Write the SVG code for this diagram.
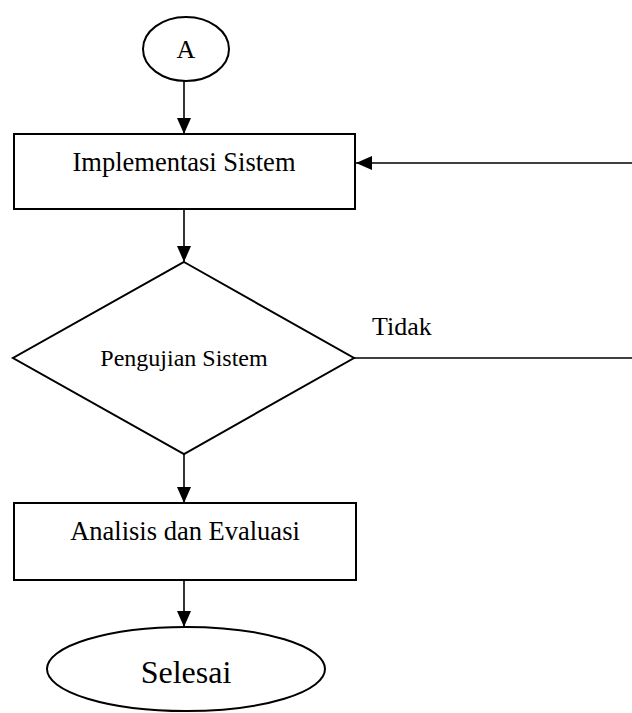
<svg xmlns="http://www.w3.org/2000/svg" width="632" height="713" viewBox="0 0 632 713">
<defs>
<style>
.shape{fill:#fff;stroke:#000;stroke-width:2}
.conn{fill:none;stroke:#000;stroke-width:1.6}
.lbl{font-family:"Liberation Serif","Times New Roman",serif;fill:#000;text-anchor:middle}
</style>
<marker id="ah" viewBox="0 0 16 14" refX="16" refY="7" markerWidth="16" markerHeight="14" markerUnits="userSpaceOnUse" orient="auto">
<path d="M0,0 L16,7 L0,14 Z" fill="#000"/>
</marker>
</defs>
<rect width="632" height="713" fill="#fff"/>
<g id="connectors">
<line class="conn" x1="184" y1="80" x2="184" y2="134" marker-end="url(#ah)"/>
<line class="conn" x1="632" y1="163" x2="356" y2="163" marker-end="url(#ah)"/>
<line class="conn" x1="184" y1="209" x2="184" y2="262" marker-end="url(#ah)"/>
<line class="conn" x1="354" y1="358" x2="632" y2="358"/>
<line class="conn" x1="184" y1="454" x2="184" y2="503" marker-end="url(#ah)"/>
<line class="conn" x1="184" y1="580" x2="184" y2="627" marker-end="url(#ah)"/>
<text class="lbl" x="372" y="335" style="text-anchor:start" font-size="26">Tidak</text>
</g>
<g id="node-a">
<ellipse class="shape" cx="186" cy="49" rx="43" ry="32"/>
<text class="lbl" x="186" y="58" font-size="26">A</text>
</g>
<g id="node-implementasi">
<rect class="shape" x="14" y="134" width="341" height="75"/>
<text class="lbl" x="184" y="171" font-size="26.5">Implementasi Sistem</text>
</g>
<g id="node-pengujian">
<polygon class="shape" points="184,262 354,358 184,454 13,358"/>
<text class="lbl" x="184" y="366" font-size="24">Pengujian Sistem</text>
</g>
<g id="node-analisis">
<rect class="shape" x="14" y="503" width="342" height="77"/>
<text class="lbl" x="185" y="540" font-size="26.5">Analisis dan Evaluasi</text>
</g>
<g id="node-selesai">
<ellipse class="shape" cx="186" cy="669" rx="139" ry="42"/>
<text class="lbl" x="186" y="683" font-size="32">Selesai</text>
</g>
</svg>
